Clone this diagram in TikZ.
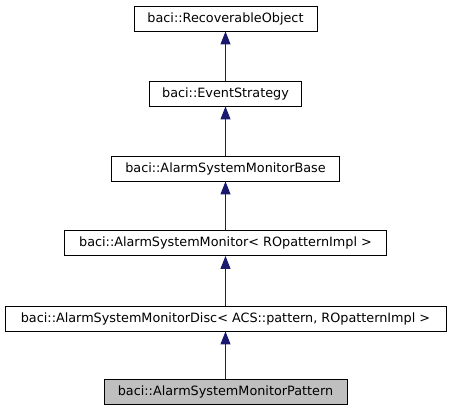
\documentclass[tikz,border=0pt]{standalone}
\usepackage{fontspec}
\setmainfont{DejaVu Sans}
\usetikzlibrary{arrows.meta}
\definecolor{edgeblue}{RGB}{25,25,112}
\definecolor{curfill}{RGB}{191,191,191}
\begin{document}
\begin{tikzpicture}[x=1pt,y=-1pt,
  cls/.style={draw=black,line width=0.9pt,fill=white,minimum height=25pt,inner sep=0pt,
    font=\fontsize{12.8}{14}\selectfont,anchor=center},
  cur/.style={cls,fill=curfill},
  inh/.style={draw=edgeblue,line width=0.9pt,-{Triangle[length=13pt,width=10pt]}}]
\useasboundingbox (0,0) rectangle (451,411);
\node[cls,minimum width=183pt] (ro) at (225.5,18.5) {baci::RecoverableObject};
\node[cls,minimum width=152pt] (es) at (225.5,93.5) {baci::EventStrategy};
\node[cls,minimum width=228.5pt] (asmb) at (225.5,168.5) {baci::AlarmSystemMonitorBase};
\node[cls,minimum width=322.5pt] (asm) at (225.5,243) {baci::AlarmSystemMonitor< ROpatternImpl >};
\node[cls,minimum width=441pt] (asmd) at (225.5,318.5) {baci::AlarmSystemMonitorDisc< ACS::pattern, ROpatternImpl >};
\node[cur,minimum width=243pt] (asmp) at (225.5,392.2) {baci::AlarmSystemMonitorPattern};
\draw[inh] (es) -- (ro);
\draw[inh] (asmb) -- (es);
\draw[inh] (asm) -- (asmb);
\draw[inh] (asmd) -- (asm);
\draw[inh] (asmp) -- (asmd);
\end{tikzpicture}
\end{document}
